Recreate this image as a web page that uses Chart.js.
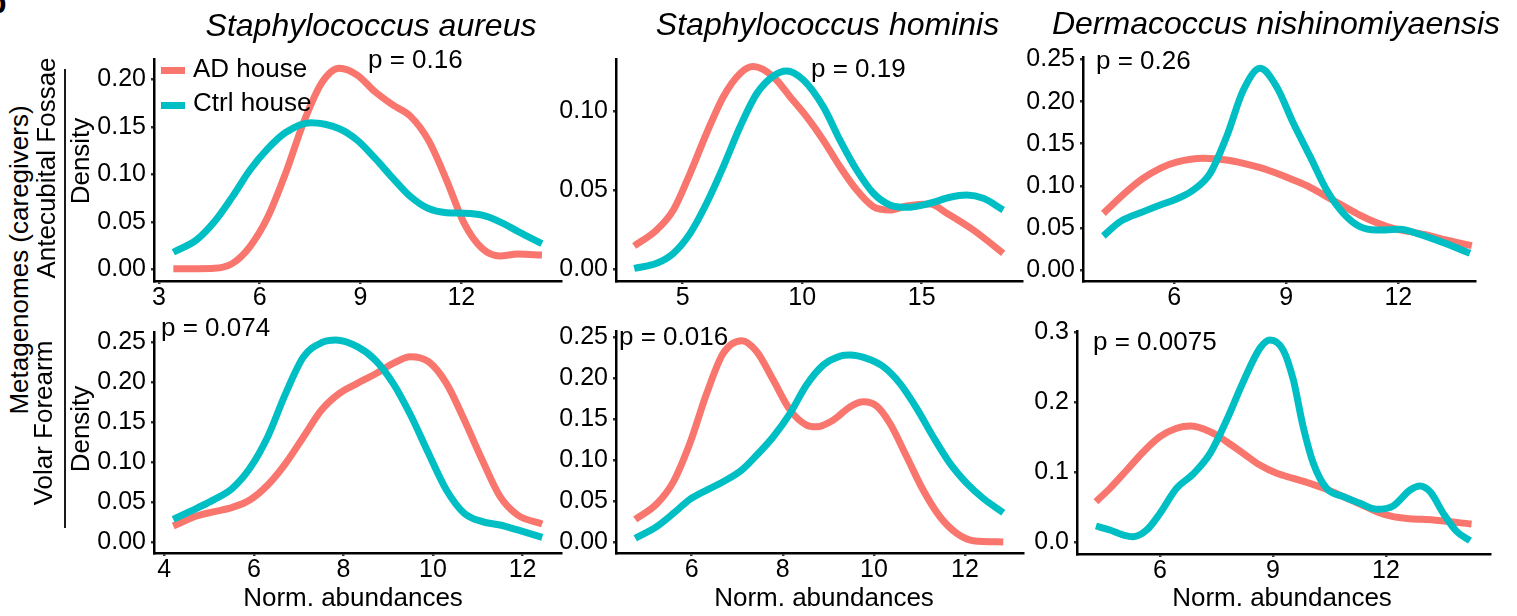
<!DOCTYPE html>
<html>
<head>
<meta charset="utf-8">
<script src="https://cdn.jsdelivr.net/npm/chart.js@4.4.0/dist/chart.umd.min.js"></script>
<style>
  html, body { margin: 0; padding: 0; background: #fff; }
  body { width: 1517px; height: 616px; position: relative; overflow: hidden;
         font-family: "Liberation Sans", Arial, Helvetica, sans-serif; color: #000; }
  canvas { position: absolute; }
  .t { position: absolute; white-space: nowrap; line-height: 1; }
  .rot { position: absolute; white-space: nowrap; line-height: 1; transform: translate(-50%, -50%) rotate(-90deg); }
</style>
</head>
<body>
<script>
// series names and colours
const groups = ['AD house', 'Ctrl house'];
const AD_COLOR = '#F8766D';
const CTRL_COLOR = '#00BFC4';
const FONT = '"Liberation Sans", Arial, sans-serif';

// S. aureus, antecubital fossae
const aurAntAdX = [3.43, 4.12, 4.65, 5.18, 5.71, 6.24, 6.77, 7.30, 7.84, 8.37, 8.90, 9.43, 9.96, 10.49, 11.02, 11.56, 12.09, 12.62, 13.15, 13.68, 14.40];
const aurAntAdY = [0.0005, 0.0006, 0.001, 0.006, 0.024, 0.055, 0.101, 0.154, 0.196, 0.2116, 0.2045, 0.187, 0.173, 0.161, 0.136, 0.094, 0.048, 0.022, 0.014, 0.016, 0.015];
const aurAntCtrlX = [3.43, 4.12, 4.65, 5.18, 5.71, 6.24, 6.77, 7.52, 8.37, 8.90, 9.43, 9.96, 10.49, 11.02, 11.56, 12.09, 12.62, 13.15, 13.68, 14.40];
const aurAntCtrlY = [0.018, 0.031, 0.050, 0.076, 0.1045, 0.127, 0.144, 0.1543, 0.148, 0.136, 0.117, 0.096, 0.0765, 0.064, 0.0596, 0.059, 0.057, 0.050, 0.040, 0.027];

// S. hominis, antecubital fossae
const homAntAdX = [2.97, 3.91, 4.61, 5.31, 6.00, 6.70, 7.40, 7.95, 8.79, 9.49, 10.19, 10.88, 11.58, 12.28, 12.98, 13.67, 14.37, 15.35, 16.05, 17.16, 18.41];
const homAntAdY = [0.0147, 0.0248, 0.0374, 0.0606, 0.0859, 0.109, 0.1237, 0.128, 0.1216, 0.109, 0.0963, 0.0816, 0.0648, 0.050, 0.0395, 0.0374, 0.040, 0.0412, 0.0354, 0.0248, 0.0101];
const homAntCtrlX = [2.97, 3.91, 4.61, 5.31, 6.00, 6.70, 7.40, 8.10, 8.79, 9.35, 10.05, 10.88, 11.58, 12.28, 12.98, 13.67, 14.37, 15.35, 16.18, 16.88, 17.58, 18.41];
const homAntCtrlY = [0.0006, 0.0038, 0.0101, 0.0227, 0.0417, 0.0648, 0.090, 0.111, 0.122, 0.1252, 0.1195, 0.1027, 0.0816, 0.0627, 0.048, 0.0406, 0.0391, 0.0417, 0.0455, 0.0469, 0.0448, 0.0374];

// D. nishinomiyaensis, antecubital fossae
const derAntAdX = [4.10, 4.72, 5.17, 5.62, 6.06, 6.78, 7.40, 7.85, 8.30, 8.74, 9.19, 9.64, 10.08, 10.53, 10.97, 11.42, 11.87, 12.31, 12.76, 13.21, 13.97];
const derAntAdY = [0.0673, 0.093, 0.109, 0.1208, 0.128, 0.1326, 0.1306, 0.1267, 0.1215, 0.1148, 0.1069, 0.0982, 0.087, 0.076, 0.0653, 0.0562, 0.0495, 0.0455, 0.0416, 0.0364, 0.0289];
const derAntCtrlX = [4.10, 4.55, 5.17, 5.62, 6.06, 6.51, 6.96, 7.40, 7.85, 8.30, 8.74, 9.19, 9.64, 10.08, 10.53, 10.97, 11.42, 12.05, 12.49, 13.21, 13.92];
const derAntCtrlY = [0.0404, 0.0574, 0.0693, 0.0772, 0.0843, 0.095, 0.1148, 0.1583, 0.2138, 0.2395, 0.2177, 0.1742, 0.1346, 0.095, 0.0673, 0.0514, 0.0475, 0.0483, 0.0436, 0.0325, 0.0198];

// S. aureus, volar forearm
const aurVolAdX = [4.20, 4.72, 5.12, 5.52, 5.91, 6.31, 6.71, 7.11, 7.51, 7.91, 8.31, 8.71, 9.11, 9.50, 9.90, 10.30, 10.70, 11.10, 11.50, 11.89, 12.44];
const aurVolAdY = [0.0204, 0.0329, 0.0383, 0.0437, 0.0529, 0.0716, 0.0987, 0.132, 0.1654, 0.1862, 0.1987, 0.2104, 0.2237, 0.232, 0.2258, 0.1987, 0.1529, 0.1029, 0.057, 0.0341, 0.0229];
const aurVolCtrlX = [4.20, 4.72, 5.12, 5.52, 5.91, 6.31, 6.71, 7.11, 7.51, 7.83, 8.31, 8.71, 9.11, 9.50, 9.90, 10.30, 10.70, 11.10, 11.50, 11.89, 12.44];
const aurVolCtrlY = [0.0287, 0.0425, 0.0537, 0.0675, 0.0925, 0.132, 0.1862, 0.232, 0.2495, 0.2529, 0.2445, 0.2279, 0.1987, 0.1591, 0.1112, 0.0654, 0.0362, 0.0258, 0.0216, 0.0154, 0.0062];

// S. hominis, volar forearm
const homVolAdX = [4.76, 5.23, 5.60, 5.96, 6.33, 6.69, 7.10, 7.43, 7.79, 8.16, 8.52, 8.74, 9.11, 9.48, 9.77, 10.06, 10.35, 10.72, 11.08, 11.45, 11.82, 12.18, 12.84];
const homVolAdY = [0.028, 0.0466, 0.0738, 0.1204, 0.1813, 0.2299, 0.2453, 0.2319, 0.1974, 0.161, 0.1427, 0.1406, 0.1488, 0.165, 0.171, 0.1658, 0.1448, 0.1041, 0.0636, 0.0311, 0.0109, 0.002, 0.0005];
const homVolCtrlX = [4.76, 5.23, 5.60, 5.96, 6.33, 6.69, 7.10, 7.43, 7.79, 8.16, 8.52, 8.89, 9.26, 9.48, 9.84, 10.21, 10.57, 10.94, 11.30, 11.67, 12.04, 12.40, 12.84];
const homVolCtrlY = [0.0049, 0.019, 0.0353, 0.0523, 0.0636, 0.0737, 0.088, 0.1062, 0.1285, 0.157, 0.1914, 0.2157, 0.2266, 0.2279, 0.2238, 0.2136, 0.1934, 0.163, 0.1285, 0.0961, 0.0718, 0.0535, 0.036];

// D. nishinomiyaensis, volar forearm
const derVolAdX = [4.30, 4.67, 5.12, 5.56, 6.00, 6.44, 6.80, 7.33, 7.77, 8.21, 8.65, 9.10, 9.54, 9.98, 10.42, 10.87, 11.31, 11.75, 12.19, 12.64, 13.26, 14.27];
const derVolAdY = [0.058, 0.0771, 0.1033, 0.1295, 0.1509, 0.1629, 0.1661, 0.158, 0.1437, 0.1271, 0.1104, 0.0986, 0.0914, 0.0843, 0.0757, 0.0652, 0.0547, 0.0437, 0.0366, 0.0338, 0.0319, 0.0261];
const derVolCtrlX = [4.30, 4.67, 5.03, 5.29, 5.65, 6.00, 6.44, 6.88, 7.33, 7.77, 8.21, 8.65, 8.92, 9.27, 9.54, 9.80, 10.07, 10.42, 10.87, 11.31, 11.75, 12.19, 12.64, 12.90, 13.17, 13.52, 13.88, 14.23];
const derVolCtrlY = [0.0233, 0.0176, 0.0104, 0.008, 0.0176, 0.0414, 0.0771, 0.0976, 0.1271, 0.1747, 0.2294, 0.2771, 0.289, 0.2747, 0.2319, 0.1651, 0.1129, 0.0771, 0.0652, 0.0557, 0.0471, 0.0519, 0.0747, 0.0804, 0.0723, 0.0414, 0.0152, 0.0023];

// tick labels
const xTicksAurAnt = [3, 6, 9, 12];
const xTicksHomAnt = [5, 10, 15];
const xTicksDerAnt = [6, 9, 12];
const xTicksAurVol = [4, 6, 8, 10, 12];
const xTicksHomVol = [6, 8, 10, 12];
const xTicksDerVol = [6, 9, 12];
const yTicksAurAnt = [0, 0.05, 0.10, 0.15, 0.20];
const yTicksHomAnt = [0, 0.05, 0.10];
const yTicksDerAnt = [0, 0.05, 0.10, 0.15, 0.20, 0.25];
const yTicksAurVol = [0, 0.05, 0.10, 0.15, 0.20, 0.25];
const yTicksHomVol = [0, 0.05, 0.10, 0.15, 0.20, 0.25];
const yTicksDerVol = [0, 0.1, 0.2, 0.3];

const species = ['Staphylococcus aureus', 'Staphylococcus hominis', 'Dermacoccus nishinomiyaensis'];
const sites = ['Antecubital Fossae', 'Volar Forearm'];
const pValues = ['p = 0.16', 'p = 0.19', 'p = 0.26', 'p = 0.074', 'p = 0.016', 'p = 0.0075'];

// panel layout: plot box [left, right, top, bottom] in page pixels
const PAD_L = 110, PAD_T = 24, PAD_R = 24, PAD_B = 50;
const panels = [
  { box: [154, 561, 59, 281],   x: [2.854, 14.967], y: [-0.0123, 0.2214], xt: xTicksAurAnt, yt: yTicksAurAnt, dec: 2, ad: [aurAntAdX, aurAntAdY], ctrl: [aurAntCtrlX, aurAntCtrlY] },
  { box: [616, 1022, 59, 281],  x: [2.209, 19.197], y: [-0.0074, 0.1328], xt: xTicksHomAnt, yt: yTicksHomAnt, dec: 2, ad: [homAntAdX, homAntAdY], ctrl: [homAntCtrlX, homAntCtrlY] },
  { box: [1083, 1475, 57, 281], x: [3.554, 14.055], y: [-0.0131, 0.2530], xt: xTicksDerAnt, yt: yTicksDerAnt, dec: 2, ad: [derAntAdX, derAntAdY], ctrl: [derAntCtrlX, derAntCtrlY] },
  { box: [154, 561, 332, 553],  x: [3.770, 12.859], y: [-0.0134, 0.2629], xt: xTicksAurVol, yt: yTicksAurVol, dec: 2, ad: [aurVolAdX, aurVolAdY], ctrl: [aurVolCtrlX, aurVolCtrlY] },
  { box: [616, 1023, 331, 553], x: [4.338, 13.273], y: [-0.0130, 0.2571], xt: xTicksHomVol, yt: yTicksHomVol, dec: 2, ad: [homVolAdX, homVolAdY], ctrl: [homVolCtrlX, homVolCtrlY] },
  { box: [1077, 1490, 331, 554], x: [3.797, 14.760], y: [-0.0167, 0.3019], xt: xTicksDerVol, yt: yTicksDerVol, dec: 1, ad: [derVolAdX, derVolAdY], ctrl: [derVolCtrlX, derVolCtrlY] }
];

function pts(xs, ys) {
  return xs.map((x, i) => ({ x: x, y: ys[i] }));
}

function makePanel(p) {
  const c = document.createElement('canvas');
  const w = PAD_L + (p.box[1] - p.box[0]) + PAD_R;
  const h = PAD_T + (p.box[3] - p.box[2]) + PAD_B;
  c.width = w; c.height = h;
  c.style.width = w + 'px'; c.style.height = h + 'px';
  c.style.left = (p.box[0] - PAD_L) + 'px';
  c.style.top = (p.box[2] - PAD_T) + 'px';
  document.body.appendChild(c);

  const tickFont = { family: FONT, size: 25 };
  new Chart(c.getContext('2d'), {
    type: 'line',
    data: {
      datasets: [
        { label: groups[0], data: pts(p.ad[0], p.ad[1]), borderColor: AD_COLOR, order: 1 },
        { label: groups[1], data: pts(p.ctrl[0], p.ctrl[1]), borderColor: CTRL_COLOR, order: 0 }
      ]
    },
    options: {
      responsive: false,
      animation: false,
      events: [],
      layout: { padding: { top: PAD_T, right: PAD_R, left: 0, bottom: 0 } },
      plugins: { legend: { display: false }, tooltip: { enabled: false } },
      elements: {
        point: { radius: 0 },
        line: { borderWidth: 7, cubicInterpolationMode: 'monotone', fill: false, borderCapStyle: 'butt' }
      },
      scales: {
        x: {
          type: 'linear', min: p.x[0], max: p.x[1],
          afterFit: s => { s.height = PAD_B; },
          afterBuildTicks: s => { s.ticks = p.xt.map(v => ({ value: v })); },
          border: { display: true, color: '#000', width: 2.5 },
          grid: { drawOnChartArea: false, drawTicks: true, tickLength: 3, color: '#333', lineWidth: 2.5 },
          ticks: { color: '#000', font: tickFont, padding: -1, maxRotation: 0, autoSkip: false, callback: v => String(v) }
        },
        y: {
          type: 'linear', min: p.y[0], max: p.y[1],
          afterFit: s => { s.width = PAD_L; },
          afterBuildTicks: s => { s.ticks = p.yt.map(v => ({ value: v })); },
          border: { display: true, color: '#000', width: 2.5 },
          grid: { drawOnChartArea: false, drawTicks: true, tickLength: 3, color: '#333', lineWidth: 2.5 },
          ticks: { color: '#000', font: tickFont, padding: 5, autoSkip: false, callback: v => v.toFixed(p.dec) }
        }
      }
    }
  });
}

function addText(str, x, base, size, align, italic) {
  const d = document.createElement('div');
  d.className = 't';
  d.textContent = str;
  d.style.fontSize = size + 'px';
  d.style.top = (base - 0.846 * size) + 'px';
  d.style.left = x + 'px';
  if (align === 'center') d.style.transform = 'translateX(-50%)';
  if (italic) d.style.fontStyle = 'italic';
  document.body.appendChild(d);
  return d;
}

function addVText(str, cx, cy, size) {
  const d = document.createElement('div');
  d.className = 'rot';
  d.textContent = str;
  d.style.fontSize = size + 'px';
  d.style.left = cx + 'px';
  d.style.top = cy + 'px';
  document.body.appendChild(d);
}

function addBar(x, y, w, h, color) {
  const d = document.createElement('div');
  d.style.cssText = 'position:absolute;left:' + x + 'px;top:' + y + 'px;width:' + w + 'px;height:' + h + 'px;background:' + color + ';';
  document.body.appendChild(d);
}

panels.forEach(makePanel);

// panel letter, partly cut off
const b = addText('b', -13, 13, 32, 'left', false);
b.style.fontWeight = 'bold';

// species titles
addText(species[0], 371, 36, 32, 'center', true);
addText(species[1], 827.5, 35, 32, 'center', true);
addText(species[2], 1276, 34, 32, 'center', true);

// p values
addText(pValues[0], 368, 68, 26);
addText(pValues[1], 811, 77, 26);
addText(pValues[2], 1096, 69, 26);
addText(pValues[3], 161, 336, 26);
addText(pValues[4], 619, 345, 26);
addText(pValues[5], 1093, 350, 26);

// legend
addBar(161, 66.5, 24, 7, AD_COLOR);
addBar(161, 101.5, 24, 7, CTRL_COLOR);
addText(groups[0], 193, 77, 26);
addText(groups[1], 193, 111, 26);

// axis titles
addVText('Density', 79.5, 161, 26);
addVText('Density', 79.5, 429, 26);
addText('Norm. abundances', 353, 606, 26, 'center');
addText('Norm. abundances', 824, 606, 26, 'center');
addText('Norm. abundances', 1282, 606, 26, 'center');

// row strip
addVText('Metagenomes (caregivers)', 19, 260, 26);
addVText(sites[0], 46, 167.5, 26);
addVText(sites[1], 43, 423, 26);
addBar(64, 69, 2, 459, '#1a1a1a');
</script>
</body>
</html>
